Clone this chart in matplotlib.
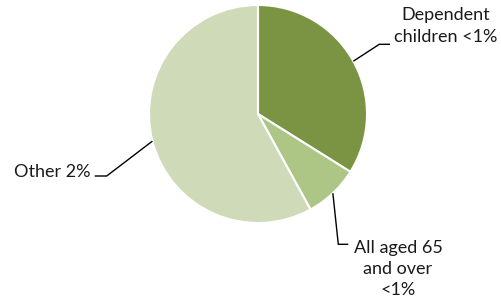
import numpy as np
import matplotlib
matplotlib.use("Agg")
import matplotlib.pyplot as plt

categories = ["Dependent\nchildren <1%", "All aged 65\nand over\n<1%", "Other 2%"]
values = [33.9, 8.1, 58.0]
colors = ["#7A9443", "#ADC686", "#CFDBB8"]

W, H = 502, 305
DPI = 100
fig = plt.figure(figsize=(W / DPI, H / DPI), dpi=DPI)
ax = fig.add_axes([0, 0, 1, 1])

R = 109.0
CX, CY = 258.0, 114.0

def px(x, y):
    return ((x - CX) / R, (CY - y) / R)

wedges, _ = ax.pie(values, colors=colors, startangle=90, counterclock=False,
                   radius=1.0, center=(0, 0),
                   wedgeprops=dict(edgecolor="white", linewidth=1.5))
ax.set_xlim(-CX / R, (W - CX) / R)
ax.set_ylim(-(H - CY) / R, CY / R)
ax.set_aspect("equal")
ax.axis("off")

plt.rcParams["font.family"] = ["Lato", "DejaVu Sans"]
fs = 13.0

def mid_pt(w):
    a = np.deg2rad((w.theta1 + w.theta2) / 2)
    return np.cos(a), np.sin(a)

# leader layout: (elbow, end, text position, ha, va)
layout = [
    (px(379.3, 44.3), px(390, 44.3), px(446, 26), "center", "center"),
    (px(338.3, 244.3), px(348.3, 244.3), px(398, 269), "center", "center"),
    (px(106.7, 176), px(94.7, 176), px(90, 172), "right", "center"),
]
for w, lab, (elb, end, tpos, ha, va) in zip(wedges, categories, layout):
    sx, sy = mid_pt(w)
    ax.plot([sx, elb[0], end[0]], [sy, elb[1], end[1]], color="black", lw=1.0,
            solid_capstyle="butt")
    ax.text(tpos[0], tpos[1], lab, ha=ha, va=va, fontsize=fs,
            linespacing=1.4, color="#1a1a1a", multialignment="center")

fig.savefig("out.png", dpi=DPI)
